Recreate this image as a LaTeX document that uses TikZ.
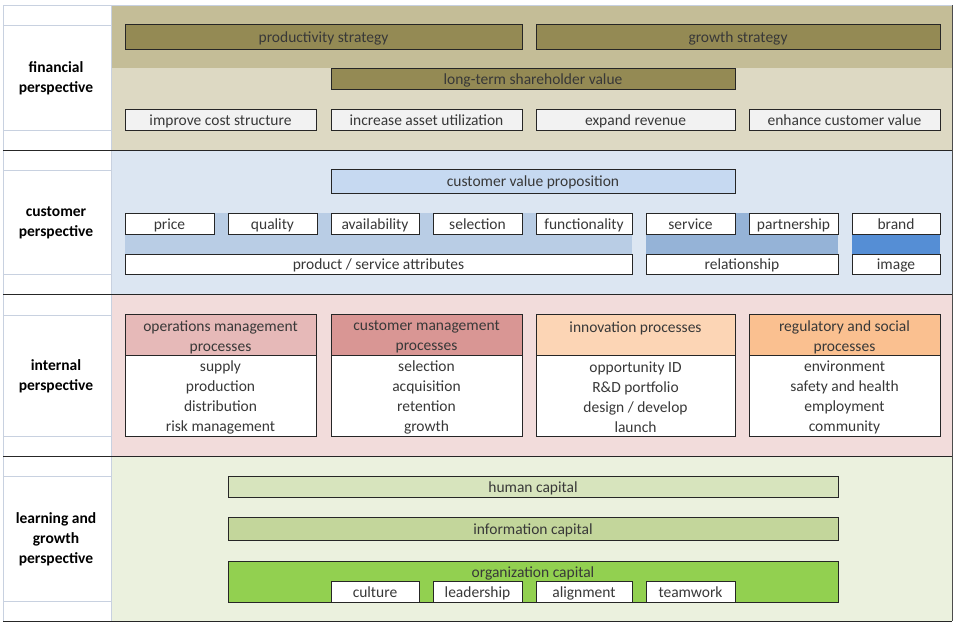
\documentclass[tikz,border=0pt]{standalone}
\usepackage{fontspec}
\setmainfont{Carlito}
\definecolor{finDark}{HTML}{C4BD97}
\definecolor{finLight}{HTML}{DDD9C3}
\definecolor{finBox}{HTML}{948A54}
\definecolor{greyBox}{HTML}{F2F2F2}
\definecolor{custBand}{HTML}{DCE6F2}
\definecolor{custBox}{HTML}{C6D9F1}
\definecolor{stripA}{HTML}{B9CDE5}
\definecolor{stripB}{HTML}{95B3D7}
\definecolor{stripC}{HTML}{558ED5}
\definecolor{intBand}{HTML}{F2DCDB}
\definecolor{opsHead}{HTML}{E6B9B8}
\definecolor{custHead}{HTML}{D99694}
\definecolor{innoHead}{HTML}{FCD5B5}
\definecolor{regHead}{HTML}{FAC090}
\definecolor{learnBand}{HTML}{EBF1DE}
\definecolor{humanBox}{HTML}{D7E4BD}
\definecolor{infoBox}{HTML}{C3D69B}
\definecolor{orgBox}{HTML}{92D050}
\definecolor{gridLine}{HTML}{C8D1E0}
\tikzset{
  cell/.style={draw=black!85, line width=0.8pt, inner sep=0pt, fill=white,
    font=\fontsize{15.5}{20}\selectfont, text=black!78},
  whitecell/.style={cell, minimum height=21pt, text height=12pt, text depth=1pt},
  perspective/.style={font=\fontsize{15.5}{20}\selectfont\bfseries, align=center, text=black},
  plain/.style={font=\fontsize{15.5}{20}\selectfont, text=black!78, inner sep=0pt,
    text height=12pt, text depth=1pt},
  plainlist/.style={font=\fontsize{15.5}{20}\selectfont, text=black!78, inner sep=0pt, align=center}
}
\begin{document}
\begin{tikzpicture}[x=1pt, y=-1pt]
  \useasboundingbox (0,0) rectangle (955,622);
  % bands
  \fill[finDark] (111,5) rectangle (952,68);
  \fill[finLight] (111,68) rectangle (952,150);
  \fill[custBand] (111,150) rectangle (952,294);
  \fill[intBand] (111,294) rectangle (952,456);
  \fill[learnBand] (111,456) rectangle (952,621);
  % left column grid
  \draw[gridLine] (3,5) -- (952,5);
  \draw[gridLine] (3,5) -- (3,621);
  \draw[gridLine] (111,5) -- (111,621);
  \draw[gridLine] (3,25) -- (111,25);
  \draw[gridLine] (3,130) -- (111,130);
  \draw[gridLine] (3,170) -- (111,170);
  \draw[gridLine] (3,274) -- (111,274);
  \draw[gridLine] (3,315) -- (111,315);
  \draw[gridLine] (3,436) -- (111,436);
  \draw[gridLine] (3,476) -- (111,476);
  \draw[gridLine] (3,601) -- (111,601);
  \draw[black!70] (952,5) -- (952,621);
  \draw[black!85, line width=0.9pt] (3,150) -- (952,150);
  \draw[black!85, line width=0.9pt] (3,294) -- (952,294);
  \draw[black!85, line width=0.9pt] (3,456) -- (952,456);
  \draw[black!85, line width=0.9pt] (3,621) -- (952,621);
  % perspective labels
  \node[perspective] (finL) at (56,78) {financial\\perspective};
  \node[perspective] (custL) at (56,223) {customer\\perspective};
  \node[perspective] (intL) at (56,376) {internal\\perspective};
  \node[perspective] (learnL) at (56,539) {learning and\\growth\\perspective};

  % financial perspective
  \node[whitecell, fill=finBox, minimum width=397pt, minimum height=25pt] (prod) at (323.5,36.5) {productivity strategy};
  \node[whitecell, fill=finBox, minimum width=404pt, minimum height=25pt] (growth) at (738,36.5) {growth strategy};
  \node[whitecell, fill=finBox, minimum width=404pt] (ltsv) at (533,78.5) {long-term shareholder value};
  \node[whitecell, fill=greyBox, minimum width=191pt] (cost) at (220.5,119.5) {improve cost structure};
  \node[whitecell, fill=greyBox, minimum width=191pt] (asset) at (426.5,119.5) {increase asset utilization};
  \node[whitecell, fill=greyBox, minimum width=199pt] (revenue) at (635.5,119.5) {expand revenue};
  \node[whitecell, fill=greyBox, minimum width=191pt] (custval) at (844.5,119.5) {enhance customer value};

  % customer perspective
  \node[whitecell, fill=custBox, minimum width=404pt, minimum height=24pt] (cvp) at (533,181) {customer value proposition};
  \fill[stripA] (125,213) rectangle (632,254);
  \fill[stripB] (646,213) rectangle (838,254);
  \fill[stripC] (852,234) rectangle (940,254);
  \node[whitecell, minimum width=89pt] (price) at (169.5,223.5) {price};
  \node[whitecell, minimum width=89pt] (quality) at (272.5,223.5) {quality};
  \node[whitecell, minimum width=88pt] (avail) at (375,223.5) {availability};
  \node[whitecell, minimum width=89pt] (select) at (477.5,223.5) {selection};
  \node[whitecell, minimum width=96pt] (funct) at (584,223.5) {functionality};
  \node[whitecell, minimum width=89pt] (service) at (690.5,223.5) {service};
  \node[whitecell, minimum width=89pt] (partner) at (793.5,223.5) {partnership};
  \node[whitecell, minimum width=88pt] (brand) at (896,223.5) {brand};
  \node[whitecell, minimum width=507pt, minimum height=20pt] (attrib) at (378.5,264) {product / service attributes};
  \node[whitecell, minimum width=192pt, minimum height=20pt] (relation) at (742,264) {relationship};
  \node[whitecell, minimum width=88pt, minimum height=20pt] (image) at (896,264) {image};

  % internal perspective
  \node[cell, fill=opsHead, minimum width=191pt, minimum height=41pt] (opsH) at (220.5,334.5) {};
  \node[cell, minimum width=191pt, minimum height=81pt] (opsB) at (220.5,395.5) {};
  \node[plainlist] (opsT) at (220.5,337) {operations management\\processes};
  \node[plainlist] (opsL) at (220.5,397) {supply\\production\\distribution\\risk management};
  \node[cell, fill=custHead, minimum width=191pt, minimum height=41pt] (cmH) at (426.5,334.5) {};
  \node[cell, minimum width=191pt, minimum height=81pt] (cmB) at (426.5,395.5) {};
  \node[plainlist] (cmT) at (426.5,337) {customer management\\processes};
  \node[plainlist] (cmL) at (426.5,397) {selection\\acquisition\\retention\\growth};
  \node[cell, fill=innoHead, minimum width=199pt, minimum height=41pt] (innoH) at (635.5,334.5) {};
  \node[cell, minimum width=199pt, minimum height=81pt] (innoB) at (635.5,395.5) {};
  \node[plain] (innoT) at (635.5,326.5) {innovation processes};
  \node[plainlist] (innoL) at (635.5,397) {opportunity ID\\R\&D portfolio\\design / develop\\launch};
  \node[cell, fill=regHead, minimum width=191pt, minimum height=41pt] (regH) at (844.5,334.5) {};
  \node[cell, minimum width=191pt, minimum height=81pt] (regB) at (844.5,395.5) {};
  \node[plainlist] (regT) at (844.5,337) {regulatory and social\\processes};
  \node[plainlist] (regL) at (844.5,397) {environment\\safety and health\\employment\\community};

  % learning and growth perspective
  \node[whitecell, fill=humanBox, minimum width=610pt] (human) at (533,486.5) {human capital};
  \node[whitecell, fill=infoBox, minimum width=610pt, minimum height=23pt] (info) at (533,528.5) {information capital};
  \node[cell, fill=orgBox, minimum width=610pt, minimum height=41pt] (org) at (533,581.5) {};
  \node[plain] (orgT) at (533,571.5) {organization capital};
  \node[whitecell, minimum width=88pt] (culture) at (375,591.5) {culture};
  \node[whitecell, minimum width=89pt] (leader) at (477.5,591.5) {leadership};
  \node[whitecell, minimum width=96pt] (align) at (584,591.5) {alignment};
  \node[whitecell, minimum width=89pt] (team) at (690.5,591.5) {teamwork};
\end{tikzpicture}
\end{document}
